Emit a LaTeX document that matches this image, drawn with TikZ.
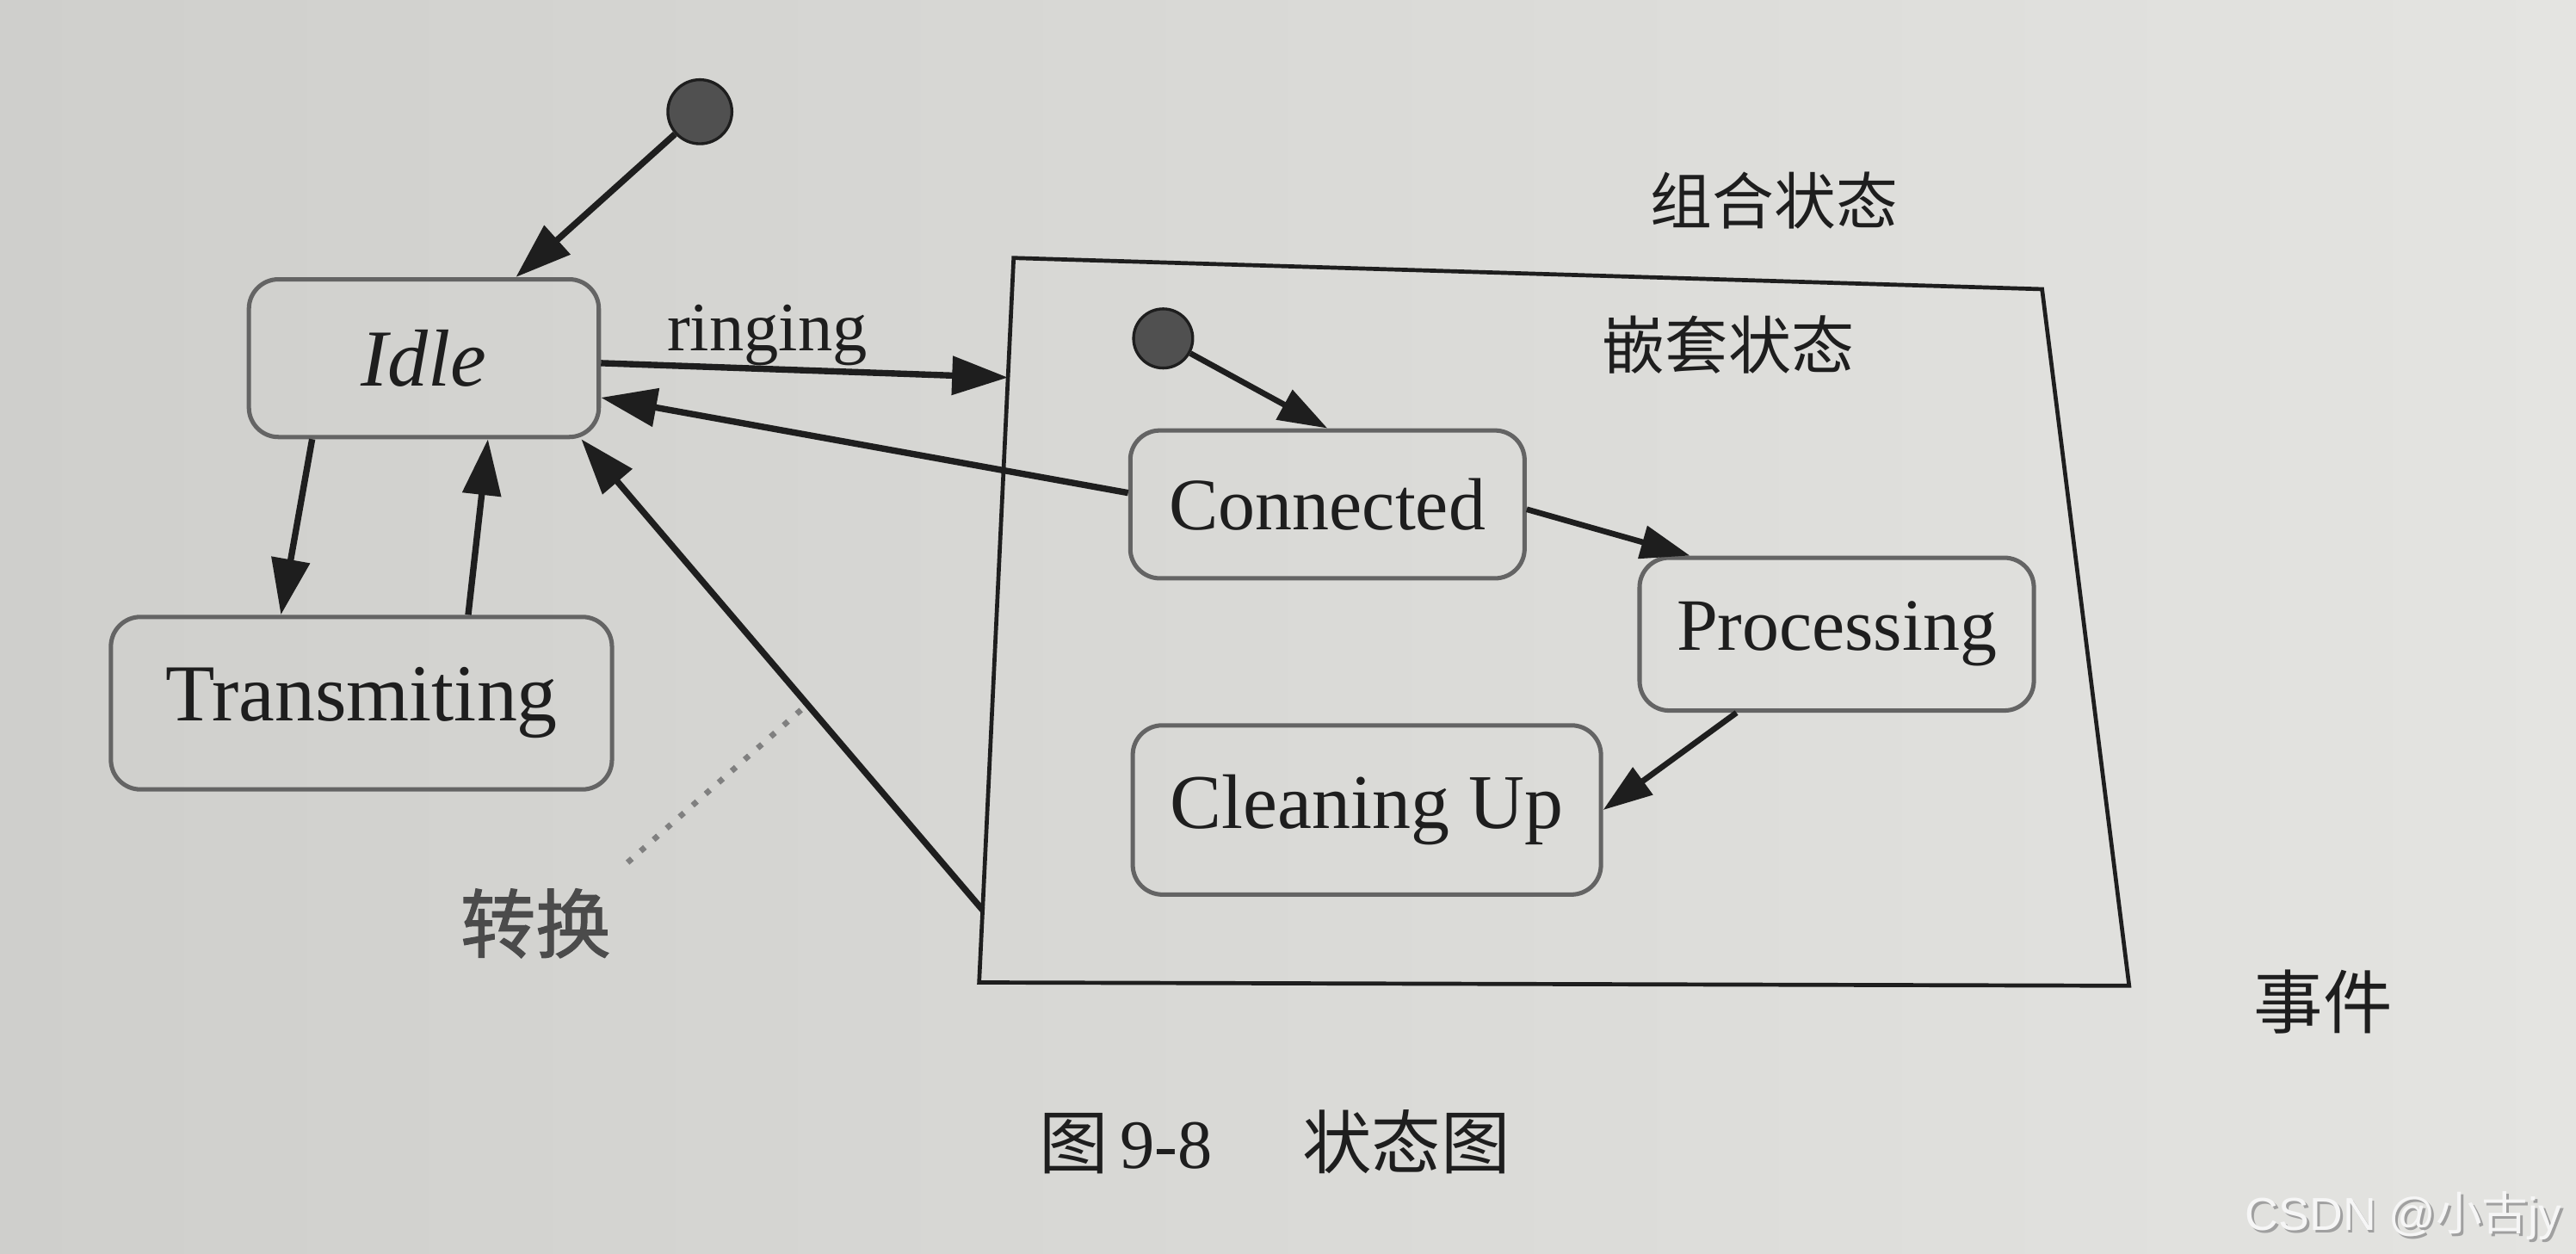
\documentclass[tikz,border=0pt]{standalone}
\usepackage{fontspec}
\setmainfont{Liberation Serif}
\newfontfamily\cjk{Noto Sans CJK SC}
\newfontfamily\cjkb[FakeBold=1.5]{Noto Sans CJK SC}
\newfontfamily\wmfont{Liberation Sans}
\usetikzlibrary{arrows.meta,calc}
\definecolor{paperL}{RGB}{207,207,204}
\definecolor{paperR}{RGB}{228,228,225}
\definecolor{ink}{RGB}{30,30,30}
\definecolor{boxline}{RGB}{100,100,100}
\definecolor{dotfill}{RGB}{80,80,80}
\definecolor{wmtext}{RGB}{246,246,246}
\definecolor{wmshadow}{RGB}{160,160,160}
\begin{document}
\begin{tikzpicture}[x=0.1mm,y=-0.1mm,
  state/.style={draw=boxline, line width=0.75pt, rounded corners=1.8mm, inner sep=0pt, text=ink},
  arr/.style={draw=ink, line width=1.1pt, -{Triangle[length=3.4mm,width=2.3mm]}},
  arrs/.style={draw=ink, line width=1pt, -{Triangle[length=3mm,width=2mm]}},
  initdot/.style={circle, draw=ink, fill=dotfill, minimum size=3.9mm, inner sep=0pt, line width=0.5pt},
  lbl/.style={text=ink, inner sep=0pt},
]
\shade[left color=paperL, right color=paperR] (0,0) rectangle (1568,763);
\useasboundingbox (0,0) rectangle (1568,763);

% outer states
\node[initdot] (init) at (426,68) {};
\node[state, minimum width=21.3mm, minimum height=9.6mm, font=\fontsize{14}{16}\selectfont\itshape] (idle) at (258,218) {Idle};
\node[state, minimum width=30.5mm, minimum height=10.5mm, font=\fontsize{14}{16}\selectfont] (trans) at (220,428) {Transmiting};

% composite state
\coordinate (cTL) at (617,157);
\coordinate (cTR) at (1243,176);
\coordinate (cBR) at (1296,600);
\coordinate (cBL) at (596,598);
\draw[draw=ink, line width=0.7pt] (cTL) -- (cTR) -- (cBR) -- (cBL) -- cycle;

\node[initdot, minimum size=3.6mm] (init2) at (708,206) {};
\node[state, minimum width=24mm, minimum height=9mm, font=\fontsize{12.8}{15}\selectfont] (conn) at (808,307) {Connected};
\node[state, minimum width=24mm, minimum height=9.3mm, font=\fontsize{12.8}{15}\selectfont] (proc) at (1118,386) {Processing};
\node[state, minimum width=28.5mm, minimum height=10.3mm, font=\fontsize{13.4}{15}\selectfont] (clean) at (832,493) {Cleaning Up};

% labels
\node[lbl, font=\fontsize{12}{14}\selectfont] (ring) at (467,204) {ringing};
\node[lbl, font=\cjk\fontsize{10.7}{13}\selectfont] (zh1) at (1080,122) {组合状态};
\node[lbl, font=\cjk\fontsize{10.9}{13}\selectfont] (zh2) at (1052,210) {嵌套状态};
\node[lbl, font=\cjkb\fontsize{13}{15}\selectfont, text=ink!80] (zh3) at (326,562) {转换};
\node[lbl, font=\cjk\fontsize{12}{14}\selectfont] (zh4) at (1414,610) {事件};
\node[lbl, font=\fontsize{12}{14}\selectfont] (cap) at (776,695) {{\cjk 图}\,9-8\hspace{1.3em}{\cjk 状态图}};

% connectors
\draw[arr] (init) -- ($(idle.north)+(56,0)$);
\draw[arr] ($(idle.south)+(-68,0)$) -- ($(trans.north)+(-49,0)$);
\draw[arr] ($(trans.north)+(65,0)$) -- ($(idle.south)+(39,0)$);
\coordinate (ringend) at ($(cTL)!0.165!(cBL)$);
\draw[arr] ($(idle.east)+(0,3)$) -- (ringend);
\draw[arr] ($(conn.west)+(0,-7)$) -- ($(idle.east)+(0,24)$);
\coordinate (retstart) at ($(cTL)!0.9!(cBL)$);
\draw[arr] (retstart) -- ($(idle.south east)+(-12,0)$);
\draw[arrs] (init2) -- (conn.north);
\draw[arrs] ($(conn.east)+(0,3)$) -- ($(proc.north west)+(32,0)$);
\draw[arrs] ($(proc.south)+(-61,0)$) -- (clean.east);

% callout line
\coordinate (dA) at (382,525);
\coordinate (dB) at (490,430);
\draw[draw=gray, dotted, line width=1pt] (dA) -- (dB);

% watermark
\node[lbl, text=wmshadow, font=\wmfont\fontsize{8}{10}\selectfont] at (1464.5,741.5) {CSDN @{\cjk 小古}jy};
\node[lbl, text=wmtext, font=\wmfont\fontsize{8}{10}\selectfont] (wm) at (1463,740) {CSDN @{\cjk 小古}jy};
\end{tikzpicture}
\end{document}
